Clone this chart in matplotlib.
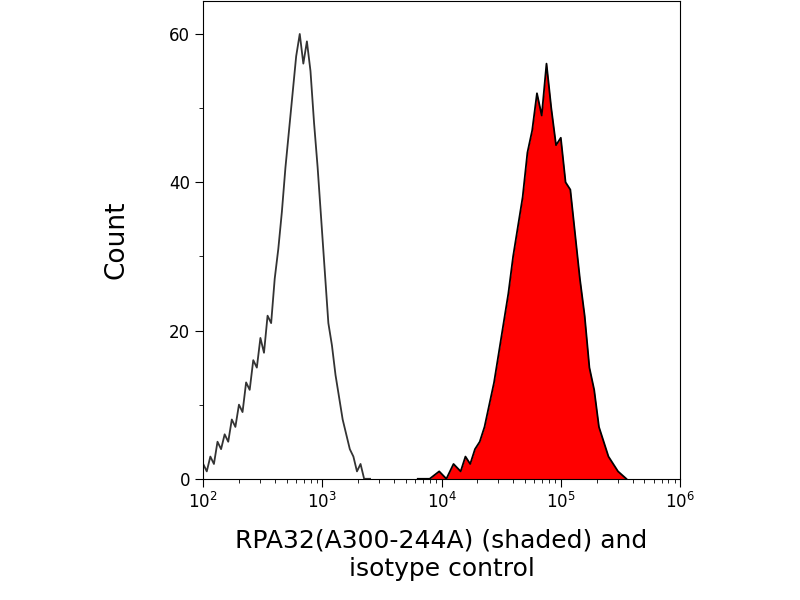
import numpy as np
import matplotlib.pyplot as plt

# isotype control (log10 of fluorescence, count)
iso_logx = [2.00, 2.03, 2.06, 2.09, 2.12, 2.15, 2.18, 2.21, 2.24, 2.27, 2.30, 2.33,
            2.36, 2.39, 2.42, 2.45, 2.48, 2.51, 2.54, 2.57, 2.60, 2.63, 2.66, 2.69,
            2.72, 2.75, 2.78, 2.81, 2.84, 2.87, 2.90, 2.93, 2.96, 2.99, 3.02, 3.05,
            3.08, 3.11, 3.14, 3.17, 3.20, 3.23, 3.26, 3.29, 3.32, 3.35, 3.40]
iso_count = [2, 1, 3, 2, 5, 4, 6, 5, 8, 7, 10, 9,
             13, 12, 16, 15, 19, 17, 22, 21, 27, 31, 36, 42,
             47, 52, 57, 60, 56, 59, 55, 48, 42, 35, 28, 21,
             18, 14, 11, 8, 6, 4, 3, 1, 2, 0, 0]

# RPA32 stained sample
rpa_logx = [3.80, 3.90, 3.98, 4.04, 4.10, 4.16, 4.20, 4.24, 4.28, 4.32, 4.36, 4.40,
            4.44, 4.48, 4.52, 4.56, 4.60, 4.64, 4.68, 4.72, 4.76, 4.80, 4.84, 4.88,
            4.92, 4.96, 5.00, 5.04, 5.08, 5.12, 5.16, 5.20, 5.24, 5.28, 5.32, 5.36,
            5.40, 5.44, 5.48, 5.55]
rpa_count = [0, 0, 1, 0, 2, 1, 3, 2, 4, 5, 7, 10,
             13, 17, 21, 25, 30, 34, 38, 44, 47, 52, 49, 56,
             50, 45, 46, 40, 39, 33, 27, 22, 15, 12, 7, 5,
             3, 2, 1, 0]

fig = plt.figure(figsize=(8, 6), dpi=100)
ax = fig.add_axes([0.254, 0.202, 0.596, 0.797])

rx = 10 ** np.array(rpa_logx)
ax.fill_between(rx, rpa_count, color="red", lw=0)
ax.plot(rx, rpa_count, color="black", lw=1.3)
ax.plot(10 ** np.array(iso_logx), iso_count, color="#333333", lw=1.3)

ax.set_xscale("log")
ax.set_xlim(1e2, 1e6)
ax.set_ylim(0, 64.5)
ax.set_yticks([0, 20, 40, 60])
ax.set_yticks([10, 30, 50], minor=True)
ax.tick_params(direction="out", labelsize=12, length=6)
ax.tick_params(which="minor", length=3)
ax.set_ylabel("Count", fontsize=19, labelpad=28)
ax.set_xlabel("RPA32(A300-244A) (shaded) and\nisotype control", fontsize=18, labelpad=12)

fig.savefig("out.png")
